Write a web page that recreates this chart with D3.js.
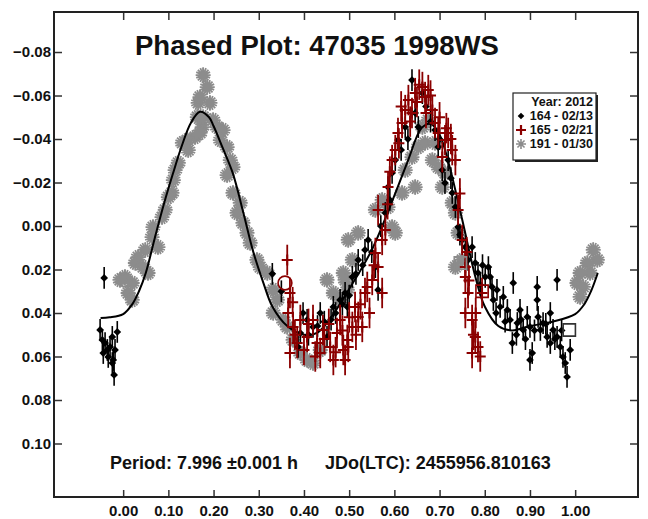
<!DOCTYPE html>
<html>
<head>
<meta charset="utf-8">
<script src="https://d3js.org/d3.v7.min.js"></script>
<style>
body{margin:0;background:#fff;}
svg text{font-family:"Liberation Sans",Arial,sans-serif;font-weight:bold;fill:#111;}
</style>
</head>
<body>
<div id="chart"></div>
<script>
// ---- data: [phase, magnitude] ----
var s164 = [
    [-0.042,0.0239],[-0.051,0.0478],[-0.046,0.0524],[-0.040,0.0538],[-0.035,0.0570],[-0.044,0.0584],
    [-0.033,0.0602],[-0.024,0.0510],[-0.013,0.0487],[-0.018,0.0570],[-0.022,0.0616],[-0.024,0.0630],
    [-0.020,0.0685],[-0.029,0.0556],
    [0.330,0.0220],[0.350,0.0300],
    [0.398,0.0400],[0.392,0.0492],[0.407,0.0432],[0.420,0.0464],[0.436,0.0400],[0.451,0.0510],
    [0.465,0.0372],[0.480,0.0340],[0.496,0.0372],[0.387,0.0556],
    [0.410,0.0500],[0.430,0.0460],[0.445,0.0440],[0.460,0.0430],[0.470,0.0400],[0.485,0.0360],
    [0.491,0.0308],[0.507,0.0234],[0.520,0.0156],[0.535,0.0110],[0.542,0.0064],[0.558,0.0189],
    [0.500,0.0320],[0.515,0.0220],[0.530,0.0180],[0.550,0.0120],[0.570,0.0000],[0.590,-0.0120],
    [0.564,0.0294],[0.580,-0.0060],[0.586,-0.0179],[0.595,-0.0244],[0.602,-0.0303],[0.608,-0.0395],
    [0.615,-0.0350],[0.630,-0.0400],[0.670,-0.0550],[0.680,-0.0480],[0.700,-0.0400],[0.725,-0.0220],
    [0.624,-0.0455],[0.639,-0.0671],[0.646,-0.0520],[0.662,-0.0611],[0.653,-0.0455],
    [0.697,-0.0363],[0.690,-0.0441],[0.719,-0.0303],[0.728,-0.0152],[0.745,0.0040],
    [0.706,-0.0257],[0.712,-0.0198],[0.735,-0.0087],[0.741,0.0005],[0.750,0.0064],[0.757,0.0097],
    [0.763,0.0156],[0.772,0.0097],[0.779,0.0170],[0.785,0.0216],[0.801,0.0234],[0.808,0.0189],
    [0.790,0.0270],[0.795,0.0180],[0.825,0.0400],[0.845,0.0440],[0.870,0.0500],[0.880,0.0430],
    [0.816,0.0280],[0.812,0.0234],[0.819,0.0340],[0.827,0.0294],[0.834,0.0372],[0.841,0.0326],
    [0.850,0.0386],[0.856,0.0432],[0.863,0.0262],[0.861,0.0538],[0.872,0.0446],[0.878,0.0386],
    [0.885,0.0478],[0.894,0.0418],[0.900,0.0464],[0.905,0.0584],[0.900,0.0616],[0.916,0.0280],
    [0.890,0.0520],[0.910,0.0480],[0.935,0.0450],[0.955,0.0520],[0.970,0.0480],
    [0.916,0.0340],[0.918,0.0418],[0.923,0.0478],[0.929,0.0446],[0.938,0.0510],[0.945,0.0400],
    [0.945,0.0538],[0.951,0.0478],[0.960,0.0248],[0.960,0.0510],[0.967,0.0556],[0.973,0.0602],
    [0.978,0.0630],[0.982,0.0694],[0.989,0.0570]
];
var s165 = [
    [0.363,0.0156],[0.369,0.0308],[0.365,0.0400],[0.376,0.0464],[0.385,0.0538],[0.369,0.0584],
    [0.392,0.0432],[0.407,0.0510],[0.420,0.0432],[0.429,0.0538],[0.436,0.0584],[0.442,0.0478],
    [0.375,0.0350],[0.380,0.0500],[0.400,0.0570],[0.410,0.0450],[0.425,0.0600],[0.445,0.0520],
    [0.455,0.0450],[0.470,0.0580],[0.485,0.0480],[0.500,0.0420],[0.515,0.0500],[0.525,0.0360],
    [0.458,0.0556],[0.465,0.0616],[0.473,0.0492],[0.480,0.0432],[0.496,0.0524],[0.487,0.0570],
    [0.498,0.0556],[0.491,0.0616],[0.507,0.0464],[0.520,0.0418],[0.529,0.0464],[0.513,0.0372],
    [0.540,0.0280],[0.545,0.0400],[0.555,0.0180],[0.585,-0.0100],[0.590,-0.0250],[0.610,-0.0380],
    [0.535,0.0308],[0.551,0.0248],[0.564,0.0189],[0.558,0.0124],[0.573,0.0308],[0.573,0.0064],
    [0.580,0.0018],[0.564,-0.0074],[0.586,-0.0179],[0.595,-0.0303],[0.602,-0.0349],[0.608,-0.0428],
    [0.615,-0.0550],[0.635,-0.0480],[0.650,-0.0570],[0.655,-0.0650],[0.670,-0.0520],[0.680,-0.0600],
    [0.617,-0.0474],[0.624,-0.0533],[0.631,-0.0579],[0.639,-0.0520],[0.646,-0.0611],[0.662,-0.0639],
    [0.668,-0.0593],[0.675,-0.0625],[0.684,-0.0533],[0.690,-0.0474],[0.697,-0.0428],[0.712,-0.0395],
    [0.700,-0.0500],[0.715,-0.0450],[0.725,-0.0400],[0.745,-0.0150],[0.760,0.0120],[0.765,0.0250],
    [0.719,-0.0428],[0.706,-0.0317],[0.728,-0.0349],[0.735,-0.0303],[0.741,-0.0074],[0.750,0.0064],
    [0.757,0.0189],[0.763,0.0308],[0.757,0.0400],[0.772,0.0432],[0.779,0.0510],[0.785,0.0556],
    [0.775,0.0500],[0.780,0.0400],[0.790,0.0600],
    [0.772,0.0584],[0.794,0.0308],[0.757,0.0234]
];
var s191 = [
    [0.177,-0.0694],[0.166,-0.0566],[0.164,-0.0501],[0.175,-0.0455],[0.159,-0.0409],[0.142,-0.0395],
    [0.131,-0.0382],[0.144,-0.0349],[0.122,-0.0290],[0.115,-0.0257],[0.111,-0.0211],[0.108,-0.0152],
    [0.100,-0.0133],[0.093,-0.0074],[0.086,-0.0041],[0.066,0.0005],[0.064,0.0051],[0.077,0.0097],
    [0.049,0.0110],[0.033,0.0143],[0.027,0.0170],[0.044,0.0189],[0.055,0.0216],[0.004,0.0234],
    [-0.007,0.0248],[0.020,0.0262],[0.011,0.0308],[0.020,0.0340],
    [0.186,-0.0639],[0.170,-0.0593],[0.192,-0.0566],[0.177,-0.0501],[0.199,-0.0487],[0.208,-0.0455],
    [0.170,-0.0428],[0.221,-0.0441],[0.215,-0.0395],[0.230,-0.0363],[0.237,-0.0303],[0.243,-0.0271],
    [0.230,-0.0234],[0.243,-0.0152],[0.259,-0.0106],[0.252,-0.0060],[0.265,-0.0014],[0.274,0.0032],
    [0.281,0.0078],[0.296,0.0156],[0.303,0.0189],[0.319,0.0216],[0.332,0.0294],[0.341,0.0340],
    [0.332,0.0400],[0.354,0.0432],[0.363,0.0464],[0.376,0.0524],[0.392,0.0584],[0.407,0.0616],
    [0.420,0.0630],[0.436,0.0570],[0.451,0.0248],[0.465,0.0308],[0.487,0.0216],[0.496,0.0294],
    [0.480,0.0340],
    [0.498,0.0064],[0.520,0.0032],[0.507,0.0156],[0.491,0.0248],[0.558,-0.0074],[0.573,-0.0120],
    [0.586,-0.0087],[0.595,0.0005],[0.602,0.0032],[0.617,-0.0152],[0.624,-0.0257],[0.639,-0.0317],
    [0.646,-0.0179],[0.653,-0.0363],[0.668,-0.0382],[0.662,-0.0455],[0.675,-0.0487],[0.690,-0.0382],
    [0.697,-0.0271],[0.684,-0.0303],[0.712,-0.0244],[0.706,-0.0179],[0.728,-0.0106],[0.735,-0.0060],
    [0.741,0.0032],[0.750,0.0156],[0.735,0.0189],
    [1.040,0.0110],[1.049,0.0156],[1.027,0.0170],[1.033,0.0216],[1.011,0.0216],[1.004,0.0262],
    [1.018,0.0280],[1.011,0.0326]
];
var err164 = 0.0050, err165 = 0.0070, err191 = 0.0035;
// first/last point markers of each session: [phase, mag, session, shape]
var sessionEnds = [
    [0.004,0.0248,"191","circle"],[0.358,0.0262,"165","circle"],
    [0.746,0.0170,"191","square"],[0.794,0.0300,"165","square"],[0.987,0.0478,"164","square"]
];
// Fourier fit
var fitCurve = [
    [-0.05,0.0423],[-0.03,0.0420],[0.00,0.0405],[0.02,0.0360],[0.035,0.0300],[0.05,0.0216],
    [0.07,0.0055],[0.09,-0.0100],[0.11,-0.0240],[0.13,-0.0370],[0.15,-0.0475],[0.17,-0.0525],
    [0.19,-0.0500],[0.20,-0.0460],[0.22,-0.0360],[0.243,-0.0240],[0.266,-0.0060],[0.288,0.0120],
    [0.31,0.0260],[0.33,0.0370],[0.363,0.0460],[0.40,0.0500],[0.43,0.0490],[0.46,0.0420],
    [0.50,0.0290],[0.55,0.0110],[0.60,-0.0140],[0.63,-0.0300],[0.66,-0.0450],[0.68,-0.0470],
    [0.70,-0.0420],[0.72,-0.0290],[0.75,-0.0030],[0.78,0.0240],[0.80,0.0370],[0.83,0.0460],
    [0.86,0.0480],[0.90,0.0460],[0.95,0.0440],[1.00,0.0405],[1.02,0.0360],[1.035,0.0300],[1.05,0.0216]
];
var xTicks = [0,0.1,0.2,0.3,0.4,0.5,0.6,0.7,0.8,0.9,1.0];
var yTicks = [-0.08,-0.06,-0.04,-0.02,0,0.02,0.04,0.06,0.08,0.10];
var legendRows = ["164 - 02/13","165 - 02/21","191 - 01/30"];

var width = 648, height = 519;
var frame = {left:54, right:638, top:12, bottom:497};
var RED = "#8b0000", GRAY = "#8c8c8c";

var svg = d3.select("#chart").append("svg")
    .attr("width", width).attr("height", height);

var x = d3.scaleLinear().domain([-0.153, 1.139]).range([frame.left, frame.right]);
var y = d3.scaleLinear().domain([-0.0984, 0.1246]).range([frame.top, frame.bottom]);

// ---- axes (ticks inside on all four sides) ----
var fmt = d3.format(".2f");
var styleAxis = function(g){
    g.select(".domain").remove();
    g.selectAll(".tick line").attr("stroke","#333").attr("stroke-width",1.5);
    g.selectAll(".tick text").attr("fill","#111").style("font-size","15px");
};
svg.append("g").attr("transform","translate("+frame.left+",0)")
    .call(d3.axisLeft(y).tickValues(yTicks).tickSize(-8).tickPadding(3).tickFormat(fmt)).call(styleAxis);
svg.append("g").attr("transform","translate("+frame.right+",0)")
    .call(d3.axisRight(y).tickValues(yTicks).tickSize(-8).tickFormat("")).call(styleAxis);
svg.append("g").attr("transform","translate(0,"+frame.bottom+")")
    .call(d3.axisBottom(x).tickValues(xTicks).tickSize(-7).tickPadding(8).tickFormat(fmt)).call(styleAxis);
svg.append("g").attr("transform","translate(0,"+frame.top+")")
    .call(d3.axisTop(x).tickValues(xTicks).tickSize(-8).tickFormat("")).call(styleAxis);
svg.append("rect")
    .attr("x",frame.left).attr("y",frame.top)
    .attr("width",frame.right-frame.left).attr("height",frame.bottom-frame.top)
    .attr("fill","none").attr("stroke","#222").attr("stroke-width",2);

var plot = svg.append("g");

// ---- marker shapes ----
var asteriskPath = function(r,n){
    var p = d3.path();
    for(var i=0;i<n;i++){
        var a = i*Math.PI/n;
        p.moveTo(-r*Math.cos(a),-r*Math.sin(a));
        p.lineTo(r*Math.cos(a),r*Math.sin(a));
    }
    return p.toString();
};
var diamond = d3.symbol(d3.symbolSquare,30)();
var plusPath = function(r){ return "M"+(-r)+",0H"+r+"M0,"+(-r)+"V"+r; };

var drawErr = function(data, err, color, w){
    plot.append("g").selectAll("line").data(data).enter().append("line")
        .attr("x1",function(d){return x(d[0]);}).attr("x2",function(d){return x(d[0]);})
        .attr("y1",function(d){return y(d[1]-err);}).attr("y2",function(d){return y(d[1]+err);})
        .attr("stroke",color).attr("stroke-width",w);
};

// session 191 (gray asterisks)
drawErr(s191, err191, GRAY, 1.5);
plot.append("g").selectAll("path").data(s191).enter().append("path")
    .attr("d",asteriskPath(7.5,8))
    .attr("transform",function(d){return "translate("+x(d[0])+","+y(d[1])+")";})
    .attr("stroke",GRAY).attr("stroke-width",1.8).attr("fill","none");

// fit curve
plot.append("path").datum(fitCurve)
    .attr("d",d3.line().x(function(d){return x(d[0]);}).y(function(d){return y(d[1]);}).curve(d3.curveCatmullRom))
    .attr("fill","none").attr("stroke","#000").attr("stroke-width",2);

// session 164 (black diamonds)
drawErr(s164, err164, "#000", 1.6);
plot.append("g").selectAll("path").data(s164).enter().append("path")
    .attr("d",diamond)
    .attr("transform",function(d){return "translate("+x(d[0])+","+y(d[1])+") rotate(45)";})
    .attr("fill","#000");

// session 165 (dark red plus)
drawErr(s165, err165, RED, 1.8);
plot.append("g").selectAll("path").data(s165).enter().append("path")
    .attr("d",plusPath(5.5))
    .attr("transform",function(d){return "translate("+x(d[0])+","+y(d[1])+")";})
    .attr("stroke",RED).attr("stroke-width",2).attr("fill","none");

// session start/end markers
var endColor = {"164":"#333","165":RED,"191":GRAY};
plot.append("g").selectAll("path").data(sessionEnds).enter().append("path")
    .attr("d",function(d){
        return d[3]=="circle" ? d3.symbol(d3.symbolCircle,150)() : d3.symbol(d3.symbolSquare,150)();
    })
    .attr("transform",function(d){return "translate("+x(d[0])+","+y(d[1])+")";})
    .attr("fill","none").attr("stroke",function(d){return endColor[d[2]];}).attr("stroke-width",1.6);

// ---- title and footer ----
svg.append("text").attr("x",135).attr("y",55)
    .style("font-size","27.5px").text("Phased Plot: 47035 1998WS");
svg.append("text").attr("x",110).attr("y",469)
    .style("font-size","18px").text("Period: 7.996 \u00b10.001 h");
svg.append("text").attr("x",325).attr("y",469)
    .style("font-size","18px").text("JDo(LTC): 2455956.810163");

// ---- legend ----
var lg = svg.append("g");
lg.append("rect").attr("x",515).attr("y",95).attr("width",83).attr("height",67).attr("fill","#222");
lg.append("rect").attr("x",513).attr("y",93).attr("width",83).attr("height",67)
    .attr("fill","#fff").attr("stroke","#222").attr("stroke-width",1.2);
lg.append("text").attr("x",593).attr("y",106).attr("text-anchor","end")
    .style("font-size","12.5px").text("Year: 2012");
var rowY = [120,134,148];
lg.selectAll(".row").data(legendRows).enter().append("text")
    .attr("x",593).attr("y",function(d,i){return rowY[i];}).attr("text-anchor","end")
    .style("font-size","12.5px").text(function(d){return d;});
lg.append("path").attr("d",d3.symbol(d3.symbolSquare,22)())
    .attr("transform","translate(521,"+(rowY[0]-4)+") rotate(45)").attr("fill","#000");
lg.append("path").attr("d",plusPath(5))
    .attr("transform","translate(521,"+(rowY[1]-4)+")").attr("stroke",RED).attr("stroke-width",2.2);
lg.append("path").attr("d",asteriskPath(5,4))
    .attr("transform","translate(521,"+(rowY[2]-4)+")").attr("stroke",GRAY).attr("stroke-width",1.6);
</script>
</body>
</html>
